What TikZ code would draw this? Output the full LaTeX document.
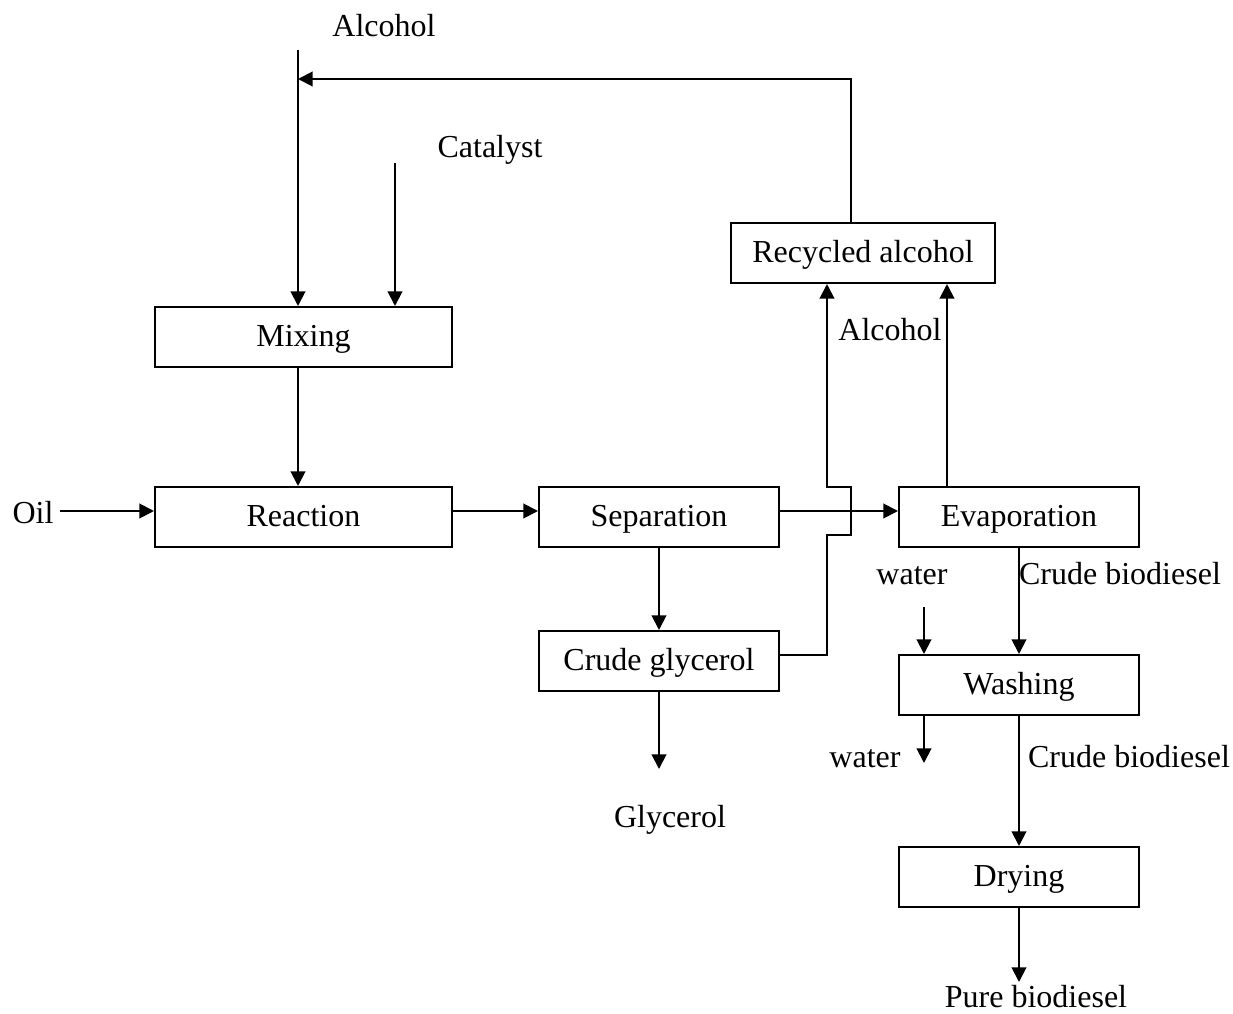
\documentclass[tikz,border=0pt]{standalone}
\usepackage{fontspec}
\setmainfont{Liberation Serif}
\usepackage{tikz}
\usetikzlibrary{arrows.meta,positioning}
\tikzstyle{unit} = [rectangle, minimum height=45pt, inner sep=0pt, text height=17pt,
text depth=3.5pt, text centered, draw=black, line width=1.5pt, font=\fontsize{24}{28}\selectfont]
\tikzstyle{tag} = [inner sep=0pt, anchor=base, font=\fontsize{24}{28}\selectfont]
\tikzstyle{arrow} = [line width=1.5pt,-{Triangle[length=11pt,width=11pt]}]

\begin{document}
\begin{tikzpicture}[x=0.75pt,y=-0.75pt]
        \useasboundingbox (0,0) rectangle (1233,1014);
        \node (mixing) [unit,minimum width=222.75pt] at (303.5,337) {Mixing};
        \node (reaction) [unit,minimum width=222.75pt,below of=mixing,node distance=135pt] {Reaction};
        \node (separation) [unit,minimum width=180pt] at (659,517) {Separation};
        \node (evaporation) [unit,minimum width=180pt,right of=separation,node distance=270pt] {Evaporation};
        \node (crudegly) [unit,minimum width=180pt,below of=separation,node distance=108pt] {Crude glycerol};
        \node (washing) [unit,minimum width=180pt] at (1019,685) {Washing};
        \node (drying) [unit,minimum width=180pt,below of=washing,node distance=144pt] {Drying};
        \node (recycled) [unit,minimum width=198pt] at (863,253) {Recycled alcohol};
        %
        \node (alctop) [tag] at (384,36) {Alcohol};
        \node (catalyst) [tag] at (490,157) {Catalyst};
        \node (oil) [tag] at (33,523) {Oil};
        \node (glycerol) [tag] at (670,827) {Glycerol};
        \node (alcmid) [tag] at (890,340) {Alcohol};
        \node (waterin) [tag] at (912,584) {water};
        \node (crudea) [tag] at (1120,584) {Crude biodiesel};
        \node (waterout) [tag] at (865,767) {water};
        \node (crudeb) [tag] at (1129,767) {Crude biodiesel};
        \node (pure) [tag] at (1036,1007) {Pure biodiesel};
        %
        \coordinate (alcin) at (298,50);
        \coordinate (catin) at (395,163);
        \coordinate (oilin) at (60,511);
        \coordinate (fb) at (851,79);
        \coordinate (glylvl) at (827,655);
        \coordinate (hopa) at (827,535);
        \coordinate (hopb) at (851,487);
        \coordinate (evapx) at (947,283);
        \coordinate (glyout) at (659,769);
        \coordinate (wtin) at (924,607);
        \coordinate (wtout) at (924,763);
        \coordinate (pbout) at (1019,982);
        %
        \draw [arrow] (alcin) -- (alcin |- mixing.north);
        \draw [arrow] (catin) -- (catin |- mixing.north);
        \draw [arrow] (recycled.north -| fb) -- (fb) -- (fb -| alcin);
        \draw [arrow] (alcin |- mixing.south) -- (alcin |- reaction.north);
        \draw [arrow] (oilin) -- (oilin -| reaction.west);
        \draw [arrow] (reaction.east |- oilin) -- (separation.west |- oilin);
        \draw [arrow] (separation.east |- oilin) -- (evaporation.west |- oilin);
        \draw [arrow] (separation.south) -- (crudegly.north);
        \draw [arrow] (crudegly.south) -- (glyout);
        \draw [arrow] (crudegly.east |- glylvl) -- (glylvl) -- (hopa) -- (hopa -| hopb)
        -- (hopb) -- (hopb -| hopa) -- (hopa |- recycled.south);
        \draw [arrow] (evaporation.north -| evapx) -- (recycled.south -| evapx);
        \draw [arrow] (evaporation.south) -- (washing.north);
        \draw [arrow] (wtin) -- (wtin |- washing.north);
        \draw [arrow] (washing.south -| wtin) -- (wtout);
        \draw [arrow] (washing.south) -- (drying.north);
        \draw [arrow] (drying.south) -- (pbout);
    \end{tikzpicture}
\end{document}
